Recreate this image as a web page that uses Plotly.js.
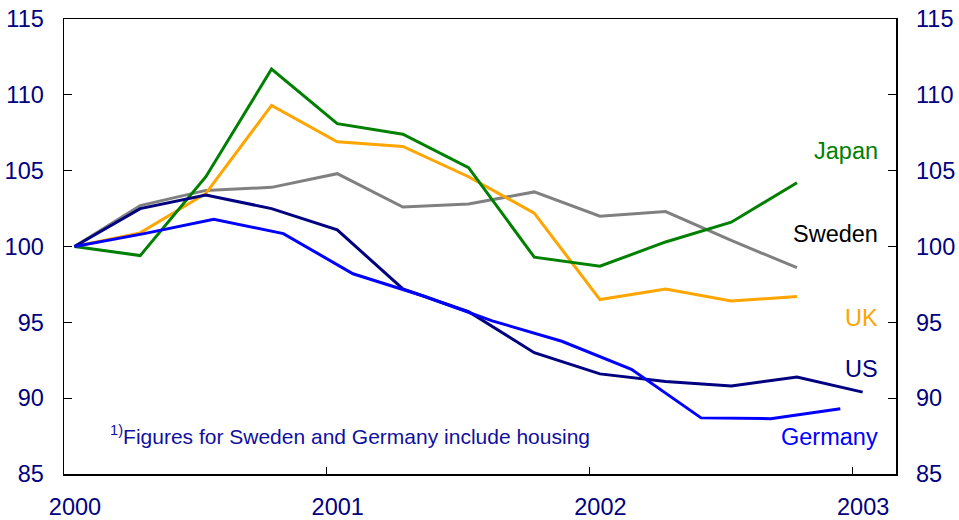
<!DOCTYPE html>
<html>
<head>
<meta charset="utf-8">
<script src="https://cdn.plot.ly/plotly-3.0.1.min.js"></script>
<style>
html,body{margin:0;padding:0;background:#fff;}
#chart{width:959px;height:520px;}
</style>
</head>
<body>
<div id="chart"></div>
<script>
// Quarterly dates (decimal years) for Japan, UK, Sweden, US
const quarters = [2000.04, 2000.29, 2000.54, 2000.79, 2001.04, 2001.29, 2001.54, 2001.79, 2002.04, 2002.29, 2002.54, 2002.79, 2003.04];
// Germany observations (decimal years)
const germanyDates = [2000.04, 2000.305, 2000.57, 2000.835, 2001.10, 2001.365, 2001.63, 2001.895, 2002.16, 2002.425, 2002.69, 2002.955];

const japan  = [100, 99.4, 104.6, 111.7, 108.1, 107.4, 105.2, 99.3, 98.7, 100.3, 101.6, 104.2];
const uk     = [100, 100.9, 103.5, 109.3, 106.9, 106.6, 104.6, 102.2, 96.5, 97.2, 96.4, 96.7];
const sweden = [100, 102.7, 103.7, 103.9, 104.8, 102.6, 102.8, 103.6, 102.0, 102.3, 100.4, 98.6];
const us     = [100, 102.5, 103.4, 102.5, 101.1, 97.2, 95.7, 93.0, 91.6, 91.1, 90.8, 91.4, 90.4];
const germany= [100, 100.85, 101.8, 100.85, 98.2, 96.75, 95.1, 93.75, 91.9, 88.7, 88.65, 89.3];

const seriesNames = ['Japan', 'Sweden', 'UK', 'US', 'Germany'];
const labelLevels = [106.3, 100.8, 95.3, 91.9, 87.45];

const yTicks = [85, 90, 95, 100, 105, 110, 115];
const xTicks = [2000, 2001, 2002, 2003];
const xTickText = ['2000', '2001', '2002', '2003'];
const footnote = '<sup>1)</sup>Figures for Sweden and Germany include housing';

const colors = {Japan:'#008000', Sweden:'#808080', UK:'#FFA500', US:'#000080', Germany:'#0000FF'};
const labelColors = {Japan:'#008000', Sweden:'#000000', UK:'#FFA500', US:'#000080', Germany:'#0000FF'};
const FONT = 'Arial, "Liberation Sans", sans-serif';

function line(name, x, y) {
  return {x: x.slice(0, y.length), y: y, name: name, type: 'scatter', mode: 'lines',
          line: {color: colors[name], width: 3}, hoverinfo: 'x+y+name'};
}

const traces = [
  line('Sweden', quarters, sweden),
  line('UK', quarters, uk),
  line('Japan', quarters, japan),
  line('US', quarters, us),
  line('Germany', germanyDates, germany)
];

const annotations = seriesNames.map((n, i) => ({
  text: n, x: 0.9805, xref: 'paper', xanchor: 'right',
  y: labelLevels[i], yref: 'y', yanchor: 'middle',
  showarrow: false, font: {family: FONT, size: 23.5, color: labelColors[n]}
}));
annotations.push({
  text: footnote, x: 0.0525, xref: 'paper', xanchor: 'left',
  y: 87.6, yref: 'y', yanchor: 'middle', showarrow: false,
  font: {family: FONT, size: 21, color: '#1010a0'}
});

const axisFont = {family: FONT, size: 23.5, color: '#000080'};
const layout = {
  width: 959, height: 520,
  margin: {l: 64, r: 63, t: 19, b: 46, pad: 0},
  paper_bgcolor: '#ffffff', plot_bgcolor: '#ffffff',
  showlegend: false,
  xaxis: {
    range: [2000, 2003.167], tickvals: xTicks, ticktext: xTickText,
    ticks: 'inside', ticklen: 7, tickwidth: 1.2, tickcolor: '#000',
    showline: true, linecolor: '#000', linewidth: 1.5, mirror: true,
    showgrid: false, zeroline: false, tickfont: axisFont,
    ticklabelshift: 11, ticklabelstandoff: 11
  },
  yaxis: {
    range: [85, 115], tickvals: yTicks,
    ticks: 'inside', ticklen: 8, tickwidth: 1.2, tickcolor: '#000',
    showline: true, linecolor: '#000', linewidth: 1.5, mirror: true,
    showgrid: false, zeroline: false, tickfont: axisFont,
    ticklabelstandoff: 14
  },
  yaxis2: {
    range: [85, 115], tickvals: yTicks, overlaying: 'y', side: 'right',
    ticks: 'inside', ticklen: 8, tickwidth: 1.2, tickcolor: '#000',
    showline: false, showgrid: false, zeroline: false, tickfont: axisFont,
    ticklabelstandoff: 19
  },
  annotations: annotations
};

// invisible trace to anchor the right axis
traces.push({x: [2000], y: [100], yaxis: 'y2', type: 'scatter', mode: 'markers',
             marker: {opacity: 0}, hoverinfo: 'skip', showlegend: false});

Plotly.newPlot('chart', traces, layout, {displayModeBar: false, staticPlot: true});
</script>
</body>
</html>
